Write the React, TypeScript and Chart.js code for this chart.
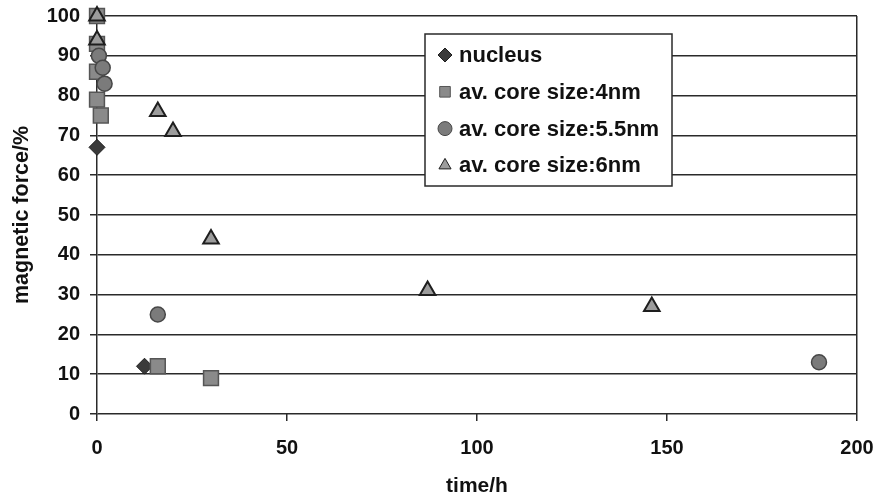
import React, { useEffect, useRef } from "react";
import { Chart, registerables } from "chart.js";
import { drawPoint } from "chart.js/helpers";

Chart.register(...registerables);

// ---- data ----
const seriesLabels = ["nucleus", "av. core size:4nm", "av. core size:5.5nm", "av. core size:6nm"];
const nucleusX = [0, 0, 12.5];
const nucleusY = [100, 67, 12];
const core4X = [0, 0, 0, 0, 1, 16, 30];
const core4Y = [100, 93, 86, 79, 75, 12, 9];
const core55X = [0.5, 1.5, 2, 16, 190];
const core55Y = [90, 87, 83, 25, 13];
const core6X = [0, 0, 16, 20, 30, 87, 146];
const core6Y = [100, 94, 76, 71, 44, 31, 27];
const xTicks = [0, 50, 100, 150, 200];
const yTicks = [0, 10, 20, 30, 40, 50, 60, 70, 80, 90, 100];

const FONT = "'Liberation Sans', Arial, Helvetica, sans-serif";
const GRID = "#2a2a2a";

const toPts = (xs: number[], ys: number[]) => xs.map((x, i) => ({ x, y: ys[i] }));

const legendRadius = [7, 7.5, 7, 7];

const boxLegend = {
  id: "boxLegend",
  afterDatasetsDraw(chart: any) {
    const ctx = chart.ctx as CanvasRenderingContext2D;
    const bx = 425, by = 34, bw = 247, bh = 152;
    ctx.save();
    ctx.fillStyle = "#ffffff";
    ctx.fillRect(bx, by, bw, bh);
    ctx.strokeStyle = GRID;
    ctx.lineWidth = 1.5;
    ctx.strokeRect(bx, by, bw, bh);
    ctx.font = `bold 22px ${FONT}`;
    ctx.textBaseline = "middle";
    ctx.textAlign = "left";
    chart.data.datasets.forEach((ds: any, i: number) => {
      const y = by + 21 + i * 36.8;
      ctx.fillStyle = ds.backgroundColor;
      ctx.strokeStyle = ds.borderColor;
      ctx.lineWidth = 1;
      drawPoint(ctx, { pointStyle: ds.pointStyle, radius: legendRadius[i], borderWidth: 1, rotation: 0 } as any, bx + 20, y);
      ctx.fillStyle = "#111";
      ctx.fillText(ds.label, bx + 34, y + 1);
    });
    ctx.restore();
  },
};

export default function App() {
  const ref = useRef<HTMLCanvasElement | null>(null);
  useEffect(() => {
    if (!ref.current) return;
    const chart = new Chart(ref.current, {
      type: "scatter",
      data: {
        datasets: [
          {
            label: seriesLabels[0],
            data: toPts(nucleusX, nucleusY),
            pointStyle: "rectRot",
            pointRadius: 8,
            backgroundColor: "#3a3a3a",
            borderColor: "#1e1e1e",
            borderWidth: 1,
            order: 3,
            clip: false,
          },
          {
            label: seriesLabels[1],
            data: toPts(core4X, core4Y),
            pointStyle: "rect",
            pointRadius: 10.5,
            backgroundColor: "#8a8a8a",
            borderColor: "#555555",
            borderWidth: 1.5,
            order: 2,
            clip: false,
          },
          {
            label: seriesLabels[2],
            data: toPts(core55X, core55Y),
            pointStyle: "circle",
            pointRadius: 7.5,
            backgroundColor: "#7b7b7b",
            borderColor: "#474747",
            borderWidth: 1.5,
            order: 1,
            clip: false,
          },
          {
            label: seriesLabels[3],
            data: toPts(core6X, core6Y),
            pointStyle: "triangle",
            pointRadius: 9,
            backgroundColor: "#9c9c9c",
            borderColor: "#1e1e1e",
            borderWidth: 2,
            order: 0,
            clip: false,
          },
        ] as any,
      },
      options: {
        animation: false,
        responsive: false,
        devicePixelRatio: 1,
        layout: { autoPadding: false, padding: { top: 16, right: 23, bottom: 0, left: 0 } },
        plugins: { legend: { display: false }, tooltip: { enabled: false } },
        scales: {
          x: {
            type: "linear",
            min: 0,
            max: 200,
            afterBuildTicks: (s: any) => {
              s.ticks = xTicks.map((v) => ({ value: v }));
            },
            afterFit: (s: any) => {
              s.height = 83;
              s.paddingLeft = 0;
              s.paddingRight = 0;
            },
            ticks: {
              color: "#111",
              font: { family: FONT, size: 20, weight: "bold" },
              padding: 15,
            },
            grid: {
              drawOnChartArea: true,
              color: (c: any) => (c.tick && c.tick.value === 200 ? GRID : "rgba(0,0,0,0)"),
              tickColor: GRID,
              tickLength: 7,
              lineWidth: 1.5,
            },
            border: { display: false },
            title: {
              display: true,
              text: "time/h",
              color: "#111",
              font: { family: FONT, size: 21, weight: "bold" },
              padding: { top: 0, bottom: -2 },
            },
          },
          y: {
            type: "linear",
            min: 0,
            max: 100,
            afterBuildTicks: (s: any) => {
              s.ticks = yTicks.map((v) => ({ value: v }));
            },
            afterFit: (s: any) => {
              s.width = 97;
              s.paddingTop = 0;
              s.paddingBottom = 0;
            },
            ticks: {
              color: "#111",
              font: { family: FONT, size: 20, weight: "bold" },
              padding: 10,
            },
            grid: {
              color: GRID,
              tickColor: GRID,
              tickLength: 7,
              lineWidth: 1.5,
            },
            border: { display: true, color: GRID, width: 1.5 },
            title: {
              display: true,
              text: "magnetic force/%",
              color: "#111",
              font: { family: FONT, size: 21.5, weight: "bold" },
              padding: { top: 9.5, bottom: 0 },
            },
          },
        },
      },
      plugins: [boxLegend],
    });
    return () => chart.destroy();
  }, []);
  return (
    <div style={{ position: "fixed", left: 0, top: 0, width: 880, height: 497, background: "#fff" }}>
      <canvas ref={ref} width={880} height={497} />
    </div>
  );
}
